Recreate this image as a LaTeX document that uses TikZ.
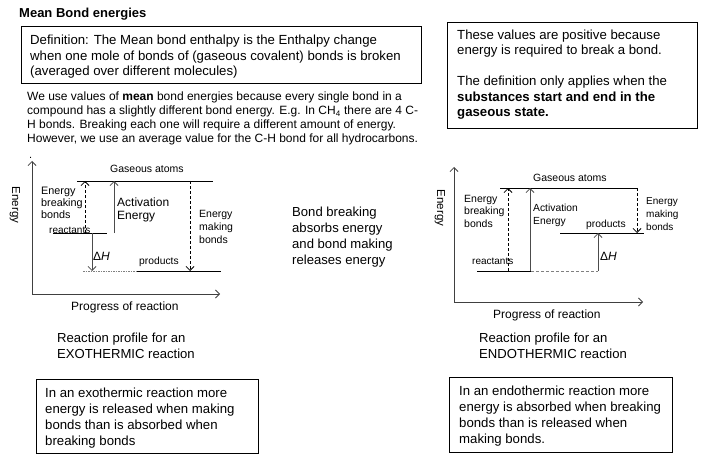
\documentclass[tikz,border=0pt]{standalone}
\usepackage{fontspec}
\setmainfont{Liberation Sans}
\usetikzlibrary{arrows.meta}
\begin{document}
\begin{tikzpicture}[x=1pt,y=-1pt,
  ln/.style={line width=0.8pt},
  arr/.style={ln,-{Straight Barb[length=4pt,width=8pt,line width=0.8pt]}},
  axis/.style={arr,line width=1pt,black!75},
  sarr/.style={arr,black!70},
  dsh/.style={dash pattern=on 3pt off 2pt},
  txt/.style={anchor=base west,inner sep=0pt,align=left},
  fbox/.style={draw,line width=0.8pt,inner sep=0pt,anchor=north west},
  body/.style={txt,font=\fontsize{13.2}{15.5}\selectfont},
  lbl/.style={txt,font=\fontsize{10}{12.3}\selectfont},
  axlbl/.style={font=\fontsize{11.5}{13}\selectfont,inner sep=0pt},
]
\useasboundingbox (0,0) rectangle (706,465);
% (multi-line text nodes are placed by the baseline of their last line)

% ---------- top texts ----------
\node[txt,font=\fontsize{13}{15}\selectfont\bfseries] (title) at (19,18) {Mean Bond energies};
\node[fbox,minimum width=400pt,minimum height=57pt] (defbox) at (21,26) {};
\node[body] (deftxt) at (30,76) {Definition: The Mean bond enthalpy is the Enthalpy change\\when one mole of bonds of (gaseous covalent) bonds is broken\\(averaged over different molecules)};
\node[txt,font=\fontsize{12}{14.3}\selectfont] (para) at (27,143) {We use values of \textbf{mean} bond energies because every single bond in a\\compound has a slightly different bond energy. E.g. In CH\textsubscript{4} there are 4 C-\\H bonds. Breaking each one will require a different amount of energy.\\However, we use an average value for the C-H bond for all hydrocarbons.};
\node[txt,font=\fontsize{11}{13}\selectfont] (dot) at (29,159) {.};

\node[fbox,minimum width=250pt,minimum height=106pt] (rbox) at (447,22) {};
\node[body] (rtxt) at (457,117) {These values are positive because\\energy is required to break a bond.\\[15.5pt]The definition only applies when the\\\textbf{substances start and end in the}\\\textbf{gaseous state.}};

\node[body,font=\fontsize{13.1}{15.7}\selectfont] (bondtxt) at (292,264) {Bond breaking\\absorbs energy\\and bond making\\releases energy};

% ---------- exothermic diagram ----------
\coordinate (eO) at (32,294);
\coordinate (eYt) at (32,161);
\coordinate (eXr) at (220,294);
\draw[axis] (eO) -- (eYt);
\draw[axis] (eO) -- (eXr);
\coordinate (eG1) at (77,181);  \coordinate (eG2) at (213,181);
\coordinate (eR1) at (53,233);  \coordinate (eR2) at (107,233);
\coordinate (eP0) at (83,271);  \coordinate (eP1) at (137,271); \coordinate (eP2) at (221,271);
\draw[ln] (eG1) -- (eG2);
\draw[ln] (eR1) -- (eR2);
\draw[ln] (eP1) -- (eP2);
\draw[line width=0.6pt,gray,dash pattern=on 1.5pt off 1pt] (eP0) -- (eP1);
\coordinate (eBb) at (85,233); \coordinate (eBt) at (85,181);
\draw[arr,dsh] (eBb) -- (eBt);
\coordinate (eAb) at (114,233); \coordinate (eAt) at (114,181);
\draw[sarr] (eAb) -- (eAt);
\coordinate (eHt) at (92,233); \coordinate (eHb) at (92,271);
\draw[sarr] (eHt) -- (eHb);
\coordinate (eMt) at (190,181); \coordinate (eMb) at (190,271);
\draw[arr,dsh] (eMt) -- (eMb);

\node[txt,font=\fontsize{10.5}{12}\selectfont] (eGas) at (110,173) {Gaseous atoms};
\node[lbl,font=\fontsize{10.8}{12}\selectfont] (eBrk) at (41,218) {Energy\\breaking\\bonds};
\node[txt,font=\fontsize{12}{13}\selectfont] (eAct) at (117,219) {Activation\\Energy};
\node[lbl] (eReac) at (49,233) {reactants};
\node[txt,font=\fontsize{12}{14}\selectfont] (eDH) at (93,260) {Δ\textit{H}};
\node[lbl,font=\fontsize{10.3}{12}\selectfont] (eProd) at (139,264) {products};
\node[lbl,font=\fontsize{10.5}{12.6}\selectfont] (eMak) at (199,243) {Energy\\making\\bonds};
\node[txt,font=\fontsize{12}{13}\selectfont] (eProg) at (71,310) {Progress of reaction};
\node[axlbl,rotate=-90] (eEn) at (15,205) {Energy};

\node[txt,font=\fontsize{13.1}{15.5}\selectfont] (eCap) at (57,358) {Reaction profile for an\\EXOTHERMIC reaction};
\node[fbox,minimum width=222pt,minimum height=74pt] (eBox) at (36,379) {};
\node[body,font=\fontsize{13.2}{16}\selectfont] (eBoxTxt) at (45,445) {In an exothermic reaction more\\energy is released when making\\bonds than is absorbed when\\breaking bonds};

% ---------- endothermic diagram ----------
\coordinate (nO) at (454,302);
\coordinate (nYt) at (454,167);
\coordinate (nXr) at (643,302);
\draw[axis] (nO) -- (nYt);
\draw[axis] (nO) -- (nXr);
\coordinate (nG1) at (500,188);  \coordinate (nG2) at (637,188);
\coordinate (nR1) at (477,271);  \coordinate (nR2) at (531,271); \coordinate (nR3) at (598,271);
\coordinate (nP1) at (560,233);  \coordinate (nP2) at (644,233);
\draw[ln] (nG1) -- (nG2);
\draw[ln] (nR1) -- (nR2);
\draw[ln,gray,dsh] (nR2) -- (nR3);
\draw[ln] (nP1) -- (nP2);
\coordinate (nBb) at (508,271); \coordinate (nBt) at (508,188);
\draw[arr,dsh] (nBb) -- (nBt);
\coordinate (nAb) at (530,271); \coordinate (nAt) at (530,188);
\draw[sarr] (nAb) -- (nAt);
\coordinate (nHb) at (598,271); \coordinate (nHt) at (598,233);
\draw[sarr] (nHb) -- (nHt);
\coordinate (nMt) at (637,188); \coordinate (nMb) at (637,233);
\draw[arr,dsh] (nMt) -- (nMb);

\node[txt,font=\fontsize{10.5}{12}\selectfont] (nGas) at (533,182) {Gaseous atoms};
\node[lbl,font=\fontsize{10.5}{12.5}\selectfont] (nBrk) at (464,227) {Energy\\breaking\\bonds};
\node[lbl,font=\fontsize{10.3}{12.3}\selectfont] (nAct) at (533,224) {Activation\\Energy};
\node[lbl,font=\fontsize{10.3}{12}\selectfont] (nProd) at (586,227) {products};
\node[lbl] (nReac) at (472,264) {reactants};
\node[txt,font=\fontsize{12}{14}\selectfont] (nDH) at (600,260) {Δ\textit{H}};
\node[lbl,font=\fontsize{10}{12.8}\selectfont] (nMak) at (646,230) {Energy\\making\\bonds};
\node[txt,font=\fontsize{12}{13}\selectfont] (nProg) at (493,318) {Progress of reaction};
\node[axlbl,rotate=-90] (nEn) at (440,208) {Energy};

\node[txt,font=\fontsize{13.1}{15.5}\selectfont] (nCap) at (479,358) {Reaction profile for an\\ENDOTHERMIC reaction};
\node[fbox,minimum width=223pt,minimum height=75pt] (nBox) at (449,377) {};
\node[body,font=\fontsize{13.2}{16}\selectfont] (nBoxTxt) at (459,443) {In an endothermic reaction more\\energy is absorbed when breaking\\bonds than is released when\\making bonds.};
\end{tikzpicture}
\end{document}
